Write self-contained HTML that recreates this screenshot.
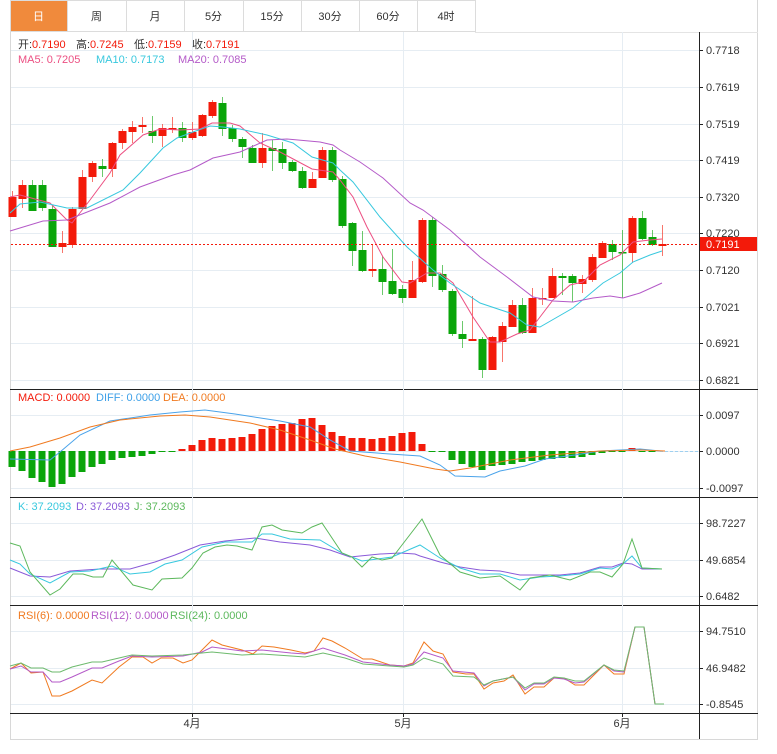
<!DOCTYPE html>
<html><head><meta charset="utf-8"><style>
body{margin:0;background:#fff;width:777px;height:754px;overflow:hidden;font-family:"Liberation Sans","Noto Sans CJK SC",sans-serif}
svg{position:absolute;left:0;top:0}
text{font-family:"Liberation Sans","Noto Sans CJK SC",sans-serif;font-size:11px}
</style></head><body>
<svg id="s" width="777" height="754" xmlns="http://www.w3.org/2000/svg">
<g id="bg"></g>
</svg>
<script>
var S=document.getElementById('s'),NS='http://www.w3.org/2000/svg';
function el(t,a,txt){var e=document.createElementNS(NS,t);for(var k in a)e.setAttribute(k,a[k]);if(txt!=null)e.textContent=txt;S.appendChild(e);return e;}
function line(x1,y1,x2,y2,c,w,d,o){var a={x1:x1,y1:y1,x2:x2,y2:y2,stroke:c,'stroke-width':w||1};if(d)a['stroke-dasharray']=d;if(o)a['stroke-opacity']=o;el('line',a);}
function poly(p,c,w){var s=[];for(var i=0;i<p.length;i+=2)s.push(p[i]+','+p[i+1]);el('polyline',{points:s.join(' '),fill:'none',stroke:c,'stroke-width':w||1});}
var tb=[10,67,126,184,243,301,359,417,475],tn=['日','周','月','5分','15分','30分','60分','4时'];
el('rect',{x:10,y:0,width:748,height:32,fill:'#fff'});
for(var i=0;i<8;i++){el('rect',{x:tb[i]+0.5,y:0.5,width:tb[i+1]-tb[i],height:31,fill:i==0?'#f08a3c':'#fff',stroke:'#dcdcdc'});
el('text',{x:(tb[i]+tb[i+1])/2,y:20,'text-anchor':'middle',fill:i==0?'#fff':'#333','font-size':'12'},tn[i]);}
line(10.5,32,10.5,739,'#d8d8d8');line(757.5,0,757.5,739,'#d8d8d8');line(10,739.5,758,739.5,'#d8d8d8');line(475,32.5,758,32.5,'#e4e4e4');
line(699.5,32,699.5,739,'#222');
[389.5,497.5,605.5,713.5].forEach(function(y){line(10,y,758,y,'#222');});
var gy=[[50,'0.7718'],[87,'0.7619'],[124,'0.7519'],[160,'0.7419'],[197,'0.7320'],[233,'0.7220'],[270,'0.7120'],[307,'0.7021'],[343,'0.6921'],[380,'0.6821'],
[415,'0.0097'],[451,'0.0000'],[488,'-0.0097'],[523,'98.7227'],[560,'49.6854'],[596,'0.6482'],[631,'94.7510'],[668,'46.9482'],[704,'-0.8545']];
gy.forEach(function(g){line(11,g[0]+.5,699,g[0]+.5,'#e6edf3');line(699,g[0]+.5,703,g[0]+.5,'#222');el('text',{x:706,y:g[0]+4,fill:'#333'},g[1]);});
[[192,'4月'],[403,'5月'],[622,'6月']].forEach(function(v){line(v[0]+.5,32,v[0]+.5,713,'#e6edf3');line(v[0]+.5,713,v[0]+.5,717,'#222');el('text',{x:v[0],y:727,'text-anchor':'middle',fill:'#333'},v[1]);});
var R='#f31a0a',G='#0aa50a',C=[
['r',197,217,191,217],['r',185,199,180,208],['g',185,211,180,211],['g',185,208,180,211],['g',209,247,205,247],['r',243,247,231,253],['r',209,245,207,248],['r',177,209,170,209],['r',163,177,161,182],['g',166,169,159,177],
['r',143,169,142,177],['r',131,143,129,149],['r',127,132,121,143],['r',125,127,117,133],['g',131,136,116,143],['r',128,136,124,147],['r',128,130,117,133],['g',128,138,122,142],['r',132,138,122,140],['r',115,136,114,137],
['r',102,116,100,118],['g',103,129,97,136],['g',128,139,125,142],['g',139,147,137,158],['g',148,163,145,163],['r',148,163,133,168],['g',148,151,140,171],['g',149,163,142,169],['g',162,171,160,172],['g',171,188,167,189],
['r',179,188,172,188],['r',150,178,147,178],['g',150,180,147,182],['g',179,226,176,228],['g',223,251,222,266],['g',250,271,231,272],['r',269,271,245,277],['g',269,282,256,295],['g',281,294,249,295],['g',289,298,285,303],
['r',280,298,261,298],['r',220,282,218,283],['g',220,276,217,287],['g',274,290,265,292],['g',291,334,289,336],['g',334,339,321,348],['r',339,341,296,341],['g',339,370,337,378],['r',337,370,336,370],['r',326,342,322,362],
['r',305,327,300,327],['g',305,333,298,334],['r',298,333,288,333],['r',298,299,288,305],['r',276,298,268,298],['g',276,278,273,295],['g',276,283,274,302],['r',279,284,275,293],['r',257,280,254,282],['r',243,258,241,258],
['g',244,252,240,260],['g',252,253,230,298],['r',218,253,216,263],['g',218,239,211,240],['g',237,245,230,246],['r',244,246,225,256]];
C.forEach(function(c,i){var x=12+10*i,col=c[0]=='r'?R:G;
line(x+.5,c[3],x+.5,c[4],col,1,null,0.6);el('rect',{x:x-3.5,y:c[1],width:8,height:Math.max(1.5,c[2]-c[1]),fill:col});});
poly([10,197,20,195,50,203,67,220,72,223,90,200,110,173,120,155,143,135,160,129,180,130,200,129,212,123,230,123,240,126,260,143,280,152,312,169,333,172,340,180,353,197,367,227,383,257,402,282,410,283,427,273,440,273,453,283,473,317,490,342,500,342,517,334,530,330,540,317,553,300,570,285,583,282,600,265,620,255,633,242,650,240,662,239],'#ec4f82');
poly([10,213,20,204,40,202,67,208,87,208,123,190,140,173,163,148,177,138,193,132,210,126,223,127,240,129,267,135,293,143,312,157,333,163,340,170,353,182,380,217,407,247,433,270,450,283,480,303,510,313,527,325,540,327,573,308,603,283,620,273,633,262,650,255,662,251],'#38c8de');
poly([10,231,43,221,67,220,110,203,140,187,173,175,190,170,213,158,240,152,267,140,287,139,320,142,333,145,340,150,360,162,383,178,410,203,423,210,450,230,480,257,507,277,533,297,553,301,573,302,593,298,610,296,623,298,640,293,662,283],'#b45ac8');
line(11,244.5,699,244.5,'#f31a0a',1,'2,2');
el('rect',{x:700,y:237,width:57,height:14,fill:'#f31a0a'});el('text',{x:706,y:248,fill:'#fff'},'0.7191');
function leg(y,items){var x=18;items.forEach(function(it){el('text',{x:x,y:y,fill:it[1]},it[0]);x+=it[2];});}
leg(48,[['开:',"#333",14],['0.7190','#f31a0a',44],['高:','#333',14],['0.7245','#f31a0a',44],['低:','#333',14],['0.7159','#f31a0a',44],['收:','#333',14],['0.7191','#f31a0a',44]]);
leg(63,[['MA5: 0.7205','#ec4f82',78],['MA10: 0.7173','#38c8de',82],['MA20: 0.7085','#b45ac8',80]]);
leg(401,[['MACD: 0.0000','#f31a0a',78],['DIFF: 0.0000','#3da0e8',67],['DEA: 0.0000','#f07a20',80]]);
leg(510,[['K: 37.2093','#38c8de',58],['D: 37.2093','#8a5ad8',58],['J: 37.2093','#5cb85c',80]]);
leg(619,[['RSI(6): 0.0000','#f07a20',73],['RSI(12): 0.0000','#b45ac8',79],['RSI(24): 0.0000','#5cb85c',80]]);
var M={0:467,1:471,2:478,3:482,4:487,5:484,6:477,7:472,8:467,9:464,10:460,11:458,12:457,13:456,14:454,15:452,16:452,17:449,18:445,19:440,20:438,21:439,22:438,23:437,24:434,25:429,26:426,27:424,28:423,29:419,30:418,31:425,32:432,33:436,34:438,35:438,36:439,37:438,38:436,39:433,40:432,41:444,42:452,43:451,44:460,45:464,46:467,47:470,48:466,49:465,50:464,51:462,52:461,53:460,54:459,55:458,56:458,57:457,58:455,59:453,60:452,61:452,62:448,63:452,64:452};
for(var i in M){var x=12+10*i,y=M[i];var col=y<451?R:G;el('rect',{x:x-3.5,y:Math.min(y,451),width:7,height:Math.max(1,Math.abs(y-451)),fill:col});}
poly([10,459,50,460,60,452,80,435,110,421,150,415,180,412,205,410,235,414,280,421,310,427,330,440,350,451,390,454,420,456,440,465,455,476,485,477,500,471,525,466,545,459,575,455,600,451,640,449,660,451],'#4aa3ea');
line(660,451.5,699,451.5,'#9fd0f0',1,'3,2');
poly([10,451,30,447,60,438,90,427,120,420,160,416,185,415,210,417,250,423,280,430,310,440,335,449,365,456,400,462,435,469,450,471,470,468,510,460,550,455,600,451,640,450,665,451],'#f07a20');
poly([10,568,30,576,50,577,70,571,100,569,130,569,155,562,175,555,200,545,225,541,255,538,280,542,310,545,330,550,350,557,380,554,400,553,415,554,420,556,440,562,460,567,480,570,500,571,520,575,540,575,560,575,580,573,600,567,612,567,623,563,632,564,642,569,662,569],'#8a5ad8');
poly([10,560,20,564,30,574,50,583,70,572,90,571,112,566,130,574,150,572,165,564,182,560,202,547,225,542,252,542,262,534,272,534,290,539,320,540,342,553,362,561,392,557,420,545,440,558,460,568,480,574,500,574,520,580,540,577,560,576,580,574,600,568,612,569,623,564,632,556,642,568,662,569],'#38c8de');
poly([10,543,20,546,30,572,50,595,60,589,73,574,83,574,93,577,103,577,112,560,133,585,152,590,162,579,182,578,192,568,203,553,215,547,227,545,237,546,252,550,262,527,272,525,282,530,302,533,312,527,322,523,342,553,352,557,362,567,372,557,382,560,392,558,402,545,422,519,440,555,460,572,480,578,500,576,520,590,530,578,550,575,570,580,590,572,600,572,612,577,623,564,632,539,642,568,662,569],'#5cb85c');
poly([10,669,21,663,31,673,43,672,52,696,60,696,72,691,92,680,102,683,119,667,132,657,143,657,152,663,161,658,173,658,183,663,192,660,202,650,212,640,222,645,242,650,253,654,262,646,274,647,291,650,305,653,314,651,323,638,332,641,345,648,363,659,372,659,390,665,404,666,413,663,424,642,433,651,443,654,453,672,466,674,474,674,484,689,493,683,504,681,513,675,525,694,534,687,544,687,554,678,564,678,575,685,584,685,604,665,614,674,624,674,635,627,644,627,655,704,664,704],'#f07a20');
poly([10,669,21,666,31,672,43,672,52,682,60,682,72,677,92,668,102,668,119,661,132,656,152,657,183,656,202,652,212,647,242,651,262,650,291,653,305,654,323,648,345,655,363,662,390,665,404,666,413,664,424,652,443,658,453,671,474,673,484,686,493,681,513,677,525,690,534,684,544,684,554,678,564,679,575,683,584,682,604,665,614,671,624,672,635,627,644,627,655,704,664,704],'#b45ac8');
poly([10,666,21,663,31,668,43,668,52,672,60,672,72,667,92,662,102,662,119,658,132,655,152,656,183,655,202,653,212,652,242,655,262,654,291,656,305,657,323,653,345,658,363,664,390,666,404,667,413,665,424,658,443,664,453,676,474,677,484,685,493,681,513,677,525,688,534,683,544,683,554,677,564,678,575,681,584,681,604,665,614,670,624,671,635,627,644,627,655,704,664,704],'#6dba6d');
</script>
</body></html>
